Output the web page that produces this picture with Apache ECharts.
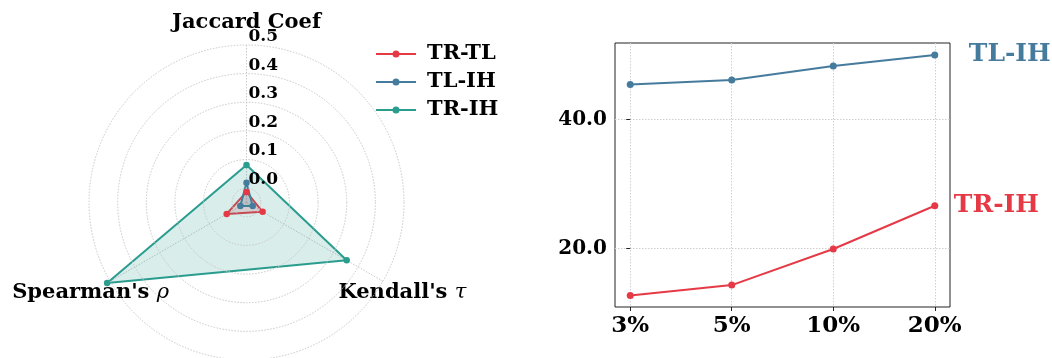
<!DOCTYPE html>
<html>
<head>
<meta charset="utf-8">
<script src="https://cdn.jsdelivr.net/npm/echarts@6/dist/echarts.min.js"></script>
<style>
html,body{margin:0;padding:0;background:#fff;}
#chart{width:1052px;height:358px;}
</style>
</head>
<body>
<div id="chart"></div>
<script>
// ---- Radar data ----
const radarIndicators = ['Jaccard Coef', "Spearman's ρ", "Kendall's τ"];
const radarLabels = ['Jaccard Coef', "Spearman's {m|ρ}", "Kendall's {m|τ}"];
const radarTickValues = [0.0, 0.1, 0.2, 0.3, 0.4, 0.5];
const pairNames = ['TR-TL', 'TL-IH', 'TR-IH'];
const valsTRTL = [-0.013, 0.030, 0.015];
const valsTLIH = [0.019, -0.025, -0.025];
const valsTRIH = [0.081, 0.512, 0.354];
// ---- Line chart data ----
const ratioLabels = ['3%', '5%', '10%', '20%'];
const lineTLIH = [45.4, 46.1, 48.3, 50.0];
const lineTRIH = [12.7, 14.3, 19.9, 26.6];
const lineYTicks = [20, 40];

const RED = '#e63946', BLUE = '#457b9d', TEAL = '#2a9d8f';
const SERIF = 'DejaVu Serif';
const CX = 246.5, CY = 202.5, R = 157.5;
const RMIN = -0.05, RMAX = 0.5;

const chart = echarts.init(document.getElementById('chart'), null, {renderer: 'canvas'});

const legendIcon = 'path://M0,3.1L40,3.1L40,4.9L0,4.9Z M16.5,4A3.5,3.5 0 1,1 23.5,4A3.5,3.5 0 1,1 16.5,4Z';

const radarColors = [RED, BLUE, TEAL];
const radarVals = [valsTRTL, valsTLIH, valsTRIH];

const nameTexts = radarIndicators.map((n, i) => {
  const ang = (90 + i * 120) * Math.PI / 180;
  const rr = 180;
  return {
    type: 'text',
    x: CX + rr * Math.cos(ang),
    y: CY - rr * Math.sin(ang),
    style: {
      text: radarLabels[i],
      font: 'bold 21px "' + SERIF + '"',
      fill: '#000',
      align: 'center',
      verticalAlign: 'middle',
      rich: {m: {fontFamily: SERIF, fontStyle: 'italic', fontWeight: 'normal', fontSize: 21, fill: '#000'}}
    }
  };
});

const option = {
  animation: false,
  backgroundColor: '#fff',
  polar: {center: [CX, CY], radius: [0, R]},
  angleAxis: {
    type: 'value', min: 0, max: 360, interval: 120, startAngle: 90,
    axisLine: {show: false}, axisTick: {show: false}, axisLabel: {show: false},
    splitLine: {show: true, lineStyle: {color: '#c8c8c8', type: [1.5, 1.5], width: 1}}
  },
  radiusAxis: {
    type: 'value', min: RMIN, max: RMAX,
    axisLine: {show: false},
    axisTick: {show: false, customValues: radarTickValues},
    axisLabel: {
      show: true, customValues: radarTickValues, margin: -2, align: 'left', verticalAlign: 'bottom',
      formatter: v => v.toFixed(1),
      fontFamily: SERIF, fontWeight: 'bold', fontSize: 17, color: '#000'
    },
    splitLine: {show: true, lineStyle: {color: '#c8c8c8', type: [1.5, 1.5], width: 1}},
    z: 5
  },
  radar: {
    center: [CX, CY], radius: R, startAngle: 90, shape: 'circle',
    indicator: radarIndicators.map(n => ({name: n, min: RMIN, max: RMAX})),
    axisName: {show: false},
    axisLine: {show: false}, splitLine: {show: false}, splitArea: {show: false}, axisTick: {show: false}, axisLabel: {show: false}
  },
  legend: {
    orient: 'vertical', left: 371, top: 38,
    itemWidth: 40, itemHeight: 8, itemGap: 6,
    data: pairNames.map(n => ({name: n, icon: legendIcon})),
    textStyle: {fontFamily: SERIF, fontWeight: 'bold', fontSize: 21, color: '#000', lineHeight: 22, padding: [0, 0, 0, 6]},
    selectedMode: false
  },
  grid: {left: 615, right: 102, top: 43, bottom: 51, show: true, borderColor: '#222', borderWidth: 1, backgroundColor: 'transparent'},
  xAxis: {
    type: 'value', min: -0.15, max: 3.15,
    axisLine: {show: false},
    axisTick: {show: true, customValues: [0, 1, 2, 3], length: 4, lineStyle: {color: '#222'}},
    axisLabel: {customValues: [0, 1, 2, 3], formatter: v => ratioLabels[Math.round(v)], margin: 8,
      fontFamily: SERIF, fontWeight: 'bold', fontSize: 23, color: '#000'},
    splitLine: {show: true, lineStyle: {color: '#d0d0d0', type: [1.5, 1.5], width: 1}}
  },
  yAxis: {
    type: 'value', min: 10.9, max: 51.85,
    axisLine: {show: false},
    axisTick: {show: true, customValues: lineYTicks, length: 4, lineStyle: {color: '#222'}},
    axisLabel: {customValues: lineYTicks, formatter: v => v.toFixed(1), margin: 8,
      fontFamily: SERIF, fontWeight: 'bold', fontSize: 20, color: '#000'},
    splitLine: {show: true, lineStyle: {color: '#d0d0d0', type: [1.5, 1.5], width: 1}}
  },
  graphic: nameTexts,
  series: [
    {
      type: 'radar', radarIndex: 0, symbol: 'circle', symbolSize: 6.5, z: 3,
      data: pairNames.map((n, i) => ({
        name: n, value: radarVals[i],
        itemStyle: {color: radarColors[i]},
        lineStyle: {color: radarColors[i], width: 2},
        areaStyle: {color: radarColors[i], opacity: 0.18}
      }))
    },
    {
      name: 'TL-IH line', type: 'line', xAxisIndex: 0, yAxisIndex: 0,
      data: lineTLIH.map((v, i) => [i, v]),
      symbol: 'circle', symbolSize: 7, color: BLUE,
      lineStyle: {color: BLUE, width: 2}, itemStyle: {color: BLUE},
      endLabel: {show: true, formatter: 'TL-IH', distance: 34, color: BLUE,
        fontFamily: SERIF, fontWeight: 'bold', fontSize: 25}
    },
    {
      name: 'TR-IH line', type: 'line', xAxisIndex: 0, yAxisIndex: 0,
      data: lineTRIH.map((v, i) => [i, v]),
      symbol: 'circle', symbolSize: 7, color: RED,
      lineStyle: {color: RED, width: 2}, itemStyle: {color: RED},
      endLabel: {show: true, formatter: 'TR-IH', distance: 19, color: RED,
        fontFamily: SERIF, fontWeight: 'bold', fontSize: 25}
    }
  ]
};
chart.setOption(option);
</script>
</body>
</html>
